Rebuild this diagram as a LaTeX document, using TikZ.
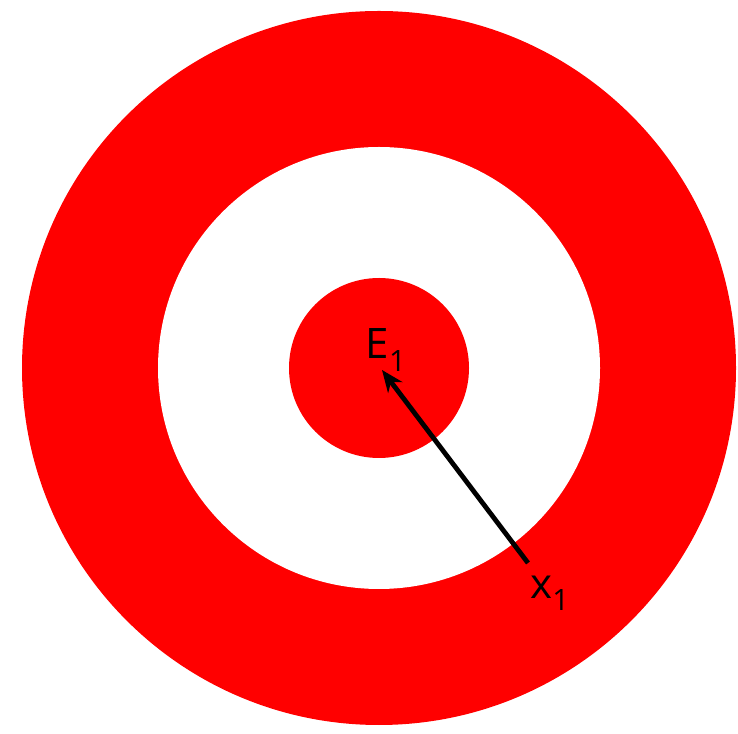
\documentclass[tikz,border=0pt]{standalone}
\usepackage{fontspec}
\setmainfont{Open Sans}
\usetikzlibrary{positioning, arrows.meta}

\begin{document}
\begin{tikzpicture}[x=1pt, y=1pt]
\useasboundingbox (0,0) rectangle (738,733);

% --- target rings ---
\node [
    circle,
    fill=red,
    inner sep=0pt,
    minimum size=714pt,
] (outerring) at (379,365) {};

\node [
    circle,
    fill=white,
    inner sep=0pt,
    minimum size=442pt,
] (whitering) at (outerring.center) {};

\node [
    circle,
    fill=red,
    inner sep=0pt,
    minimum size=180pt,
] (bullseye) at (outerring.center) {};

% --- labels ---
\node [
    inner sep=0pt,
    font=\fontsize{42}{46}\selectfont,
] (eone) at (386,383) {E\textsubscript{1}};

\node [
    inner sep=0pt,
    font=\fontsize{42}{46}\selectfont,
] (xone) at (550,140) {x\textsubscript{1}};

% --- connections ---
\coordinate (tail) at (528,170);
\coordinate (tip) at (382,363);

\begin{scope}[line width=4.8pt]
\draw [-{Stealth[length=22pt, width=18pt]}] (tail) -- (tip);
\end{scope}

\end{tikzpicture}
\end{document}
